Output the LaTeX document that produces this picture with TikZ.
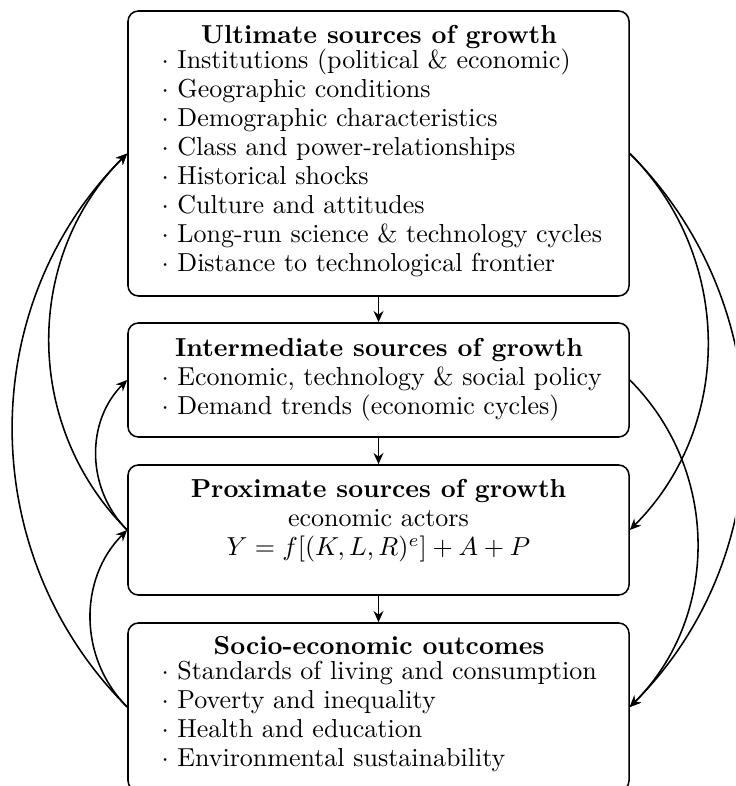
\documentclass[tikz,border=0pt]{standalone}
\usetikzlibrary{arrows.meta}
\newcommand{\boxtext}[3]{\parbox[t]{200pt}{\fontsize{10}{11.15}\selectfont\raggedright\makebox[167.3pt]{\textbf{#1}}\par\vspace{#2}#3}}
\begin{document}
\begin{tikzpicture}[x=0.3846pt,y=0.3846pt,
  box/.style={draw, line width=0.6pt, rounded corners=4pt, minimum width=192.7pt, inner sep=0pt},
  txt/.style={inner sep=0pt, anchor=base west},
  arr/.style={line width=0.6pt, -{Stealth[length=4.3pt,width=3.8pt,inset=1.4pt]}}]
\useasboundingbox (0,0) rectangle (735,786);
\clip (0,0) rectangle (735,786);
% boxes
\node[box, minimum height=109.6pt] (u) at (378.5,632.5) {};
\node[box, minimum height=43.85pt] (i) at (378.5,406) {};
\node[box, minimum height=50pt] (p) at (378.5,256) {};
\node[box, minimum height=64.6pt] (s) at (378.5,79) {};
% texts
\node[txt] (tu) at (161,742.7) {\boxtext{Ultimate sources of growth}{-1.55pt}{$\cdot$ Institutions (political \& economic)\\
$\cdot$ Geographic conditions\\
$\cdot$ Demographic characteristics\\
$\cdot$ Class and power-relationships\\
$\cdot$ Historical shocks\\
$\cdot$ Culture and attitudes\\
$\cdot$ Long-run science \& technology cycles\\
$\cdot$ Distance to technological frontier}};
\node[txt] (ti) at (161,429.3) {\boxtext{Intermediate sources of growth}{-0.25pt}{$\cdot$ Economic, technology \& social policy\\
$\cdot$ Demand trends (economic cycles)}};
\node[txt, anchor=base] (tp) at (378.5,288) {\parbox[t]{200pt}{\fontsize{10}{11.1}\selectfont\centering\textbf{Proximate sources of growth}\\
economic actors\\
$Y=f[(K,L,R)^e]+A+P$}};
\node[txt] (ts) at (161,131) {\boxtext{Socio-economic outcomes}{-1.55pt}{$\cdot$ Standards of living and consumption\\
$\cdot$ Poverty and inequality\\
$\cdot$ Health and education\\
$\cdot$ Environmental sustainability}};
% vertical arrows
\draw[arr] (u) -- (i);
\draw[arr] (i) -- (p);
\draw[arr] (p) -- (s);
% left feedback arrows
\draw[arr] (s.west) to[bend left=45] (u.west);
\draw[arr] (s.west) to[bend left=45] (p.west);
\draw[arr] (p.west) to[bend left=45] (u.west);
\draw[arr] (p.west) to[bend left=45] (i.west);
% right arrows
\draw[arr] (u.east) to[bend left=45] (p.east);
\draw[arr] (u.east) to[bend left=45] (s.east);
\draw[arr] (i.east) to[bend left=45] (s.east);
\end{tikzpicture}
\end{document}
